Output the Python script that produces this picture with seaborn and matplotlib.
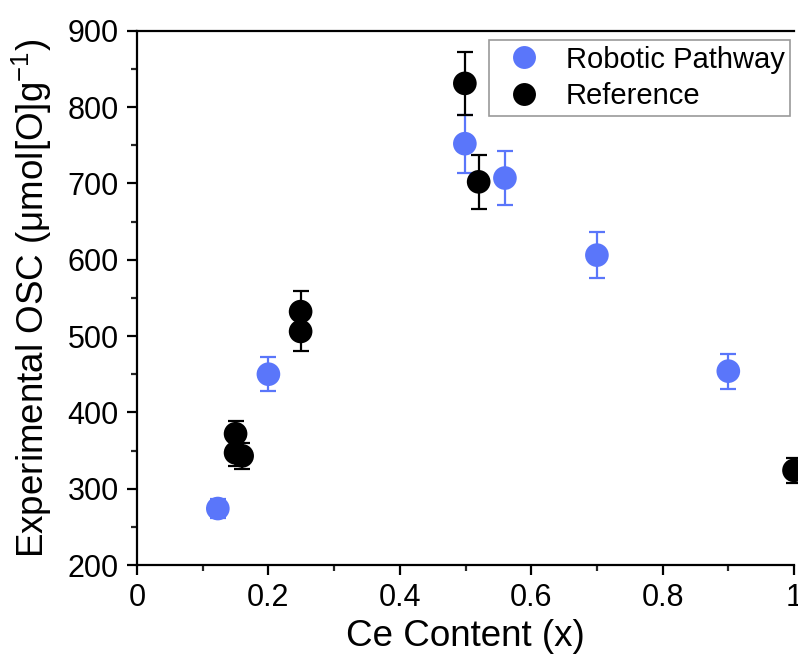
import matplotlib
matplotlib.use("Agg")
import matplotlib.pyplot as plt
from matplotlib.ticker import MultipleLocator, FixedLocator
from matplotlib.lines import Line2D
import seaborn as sns
import pandas as pd

# ---- data ----
robotic_x = [0.123, 0.20, 0.499, 0.56, 0.70, 0.90]
robotic_y = [274, 450, 752, 707, 606, 454]
robotic_err = [12, 22, 38, 35, 30, 23]

reference_x = [0.15, 0.15, 0.16, 0.249, 0.249, 0.499, 0.52, 1.0]
reference_y = [372, 347, 343, 532, 506, 831, 702, 324]
reference_err = [17, 17, 17, 27, 25, 41, 35, 16]

series_names = ["Robotic Pathway", "Reference"]
series_colors = ["#5a76fa", "#000000"]

x_ticks = [0, 0.2, 0.4, 0.6, 0.8, 1.0]
x_tick_labels = ["0", "0.2", "0.4", "0.6", "0.8", "1"]
y_ticks = [200, 300, 400, 500, 600, 700, 800, 900]

df = pd.DataFrame({
    "x": robotic_x + reference_x,
    "y": robotic_y + reference_y,
    "err": robotic_err + reference_err,
    "series": [series_names[0]] * len(robotic_x) + [series_names[1]] * len(reference_x),
})

sns.set_style("white")
plt.rcParams["font.family"] = ["Liberation Sans", "DejaVu Sans"]
plt.rcParams["mathtext.fontset"] = "custom"
plt.rcParams["mathtext.rm"] = "Liberation Sans"
plt.rcParams["mathtext.it"] = "Liberation Sans:italic"
plt.rcParams["mathtext.bf"] = "Liberation Sans:bold"
plt.rcParams["text.color"] = "black"
plt.rcParams["axes.labelcolor"] = "black"

fig = plt.figure(figsize=(7.98, 6.59), dpi=100)
ax = fig.add_axes([0.1717, 0.1426, 0.995 - 0.1717, 0.9534 - 0.1426])

for name, color in zip(series_names, series_colors):
    sub = df[df["series"] == name]
    ax.errorbar(sub["x"], sub["y"], yerr=sub["err"], fmt="none", ecolor=color,
                elinewidth=1.6, capsize=6, capthick=1.6, zorder=2, clip_on=False)

sns.scatterplot(data=df, x="x", y="y", hue="series", hue_order=series_names,
                palette=series_colors, s=290, linewidth=0, ax=ax, zorder=3,
                legend=False, clip_on=False)

ax.set_xlim(0, 1.0)
ax.set_ylim(200, 900)
ax.xaxis.set_major_locator(FixedLocator(x_ticks))
ax.set_xticklabels(x_tick_labels)
ax.xaxis.set_minor_locator(MultipleLocator(0.1))
ax.yaxis.set_major_locator(FixedLocator(y_ticks))
ax.yaxis.set_minor_locator(MultipleLocator(50))

ax.tick_params(axis="both", which="major", direction="out", length=7, width=1.6,
               labelsize=22, colors="black", bottom=True, left=True, top=False, right=False, pad=6)
ax.tick_params(axis="both", which="minor", direction="out", length=4, width=1.6,
               bottom=True, left=True, top=False, right=False)

for side in ["left", "bottom", "top"]:
    ax.spines[side].set_visible(True)
    ax.spines[side].set_linewidth(1.6)
    ax.spines[side].set_color("black")
ax.spines["right"].set_visible(False)

ax.set_xlabel("Ce Content (x)", fontsize=26.5, labelpad=4, color="black")
ax.set_ylabel(r"Experimental OSC (μmol[O]g$^{-1}$)", fontsize=26.5, labelpad=10, color="black")

handles = [Line2D([], [], marker="o", linestyle="none", markersize=16.5,
                  markerfacecolor=c, markeredgewidth=0, color=c) for c in series_colors]
leg = ax.legend(handles, series_names, loc="upper right", bbox_to_anchor=(0.9945, 0.983),
                fontsize=21, frameon=True, fancybox=False, edgecolor="#808080",
                borderpad=0.2, handletextpad=0.44, labelspacing=0.28, handlelength=2.0,
                borderaxespad=0)
leg.get_frame().set_linewidth(1.2)
for t in leg.get_texts():
    t.set_color("black")

fig.savefig("out.png", dpi=100)
